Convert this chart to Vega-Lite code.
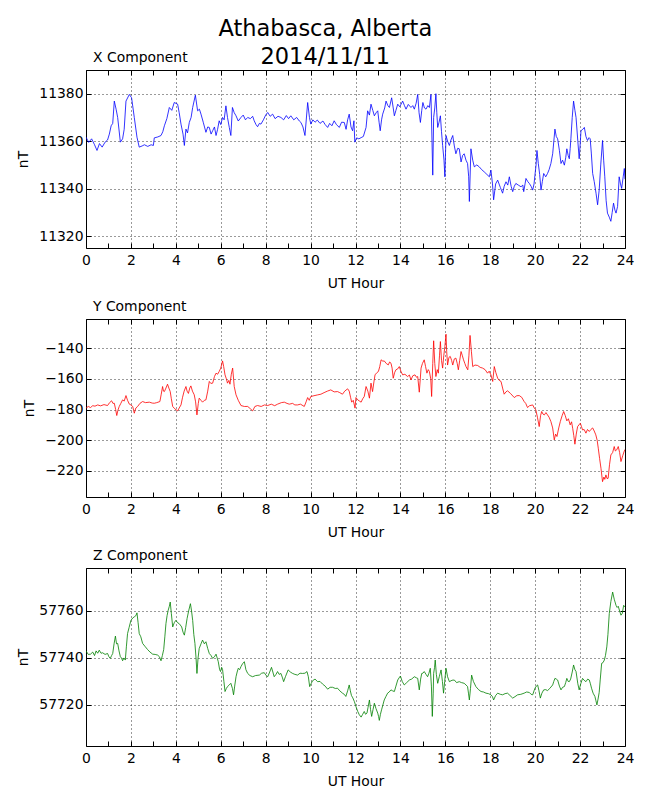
{
  "$schema": "https://vega.github.io/schema/vega-lite/v6.json",
  "padding": {"left": 16, "top": 17, "right": 5, "bottom": 5},
  "title": {
    "text": ["Athabasca, Alberta", "2014/11/11"],
    "fontSize": 22.5,
    "fontWeight": "normal",
    "font": "DejaVu Sans",
    "lineHeight": 28,
    "anchor": "middle",
    "frame": "bounds",
    "dx": 0,
    "offset": -18,
    "color": "black"
  },
  "datasets": {
    "xcomp": [
      {"h":0.00,"v":11361.7},{"h":0.12,"v":11359.5},{"h":0.25,"v":11361.0},{"h":0.38,"v":11358.5},{"h":0.49,"v":11356.1},{"h":0.6,"v":11359.0},{"h":0.72,"v":11357.5},{"h":0.85,"v":11359.6},{"h":0.96,"v":11360.5},{"h":1.04,"v":11363.0},{"h":1.12,"v":11366.5},{"h":1.19,"v":11367.5},{"h":1.26,"v":11376.9},{"h":1.34,"v":11373.5},{"h":1.41,"v":11370.0},{"h":1.53,"v":11359.6},{"h":1.63,"v":11361.0},{"h":1.70,"v":11365.0},{"h":1.78,"v":11376.9},{"h":1.93,"v":11379.7},{"h":2.03,"v":11378.3},{"h":2.15,"v":11370.0},{"h":2.27,"v":11361.7},{"h":2.37,"v":11357.5},{"h":2.5,"v":11358.0},{"h":2.6,"v":11358.5},{"h":2.75,"v":11357.8},{"h":2.9,"v":11358.5},{"h":3.0,"v":11358.2},{"h":3.04,"v":11361.4},{"h":3.2,"v":11361.8},{"h":3.34,"v":11362.4},{"h":3.42,"v":11364.0},{"h":3.49,"v":11366.5},{"h":3.6,"v":11369.5},{"h":3.71,"v":11374.2},{"h":3.82,"v":11373.0},{"h":3.93,"v":11376.3},{"h":4.08,"v":11375.6},{"h":4.15,"v":11372.0},{"h":4.23,"v":11367.2},{"h":4.32,"v":11363.0},{"h":4.38,"v":11358.2},{"h":4.45,"v":11365.1},{"h":4.52,"v":11363.5},{"h":4.6,"v":11367.9},{"h":4.68,"v":11370.0},{"h":4.75,"v":11374.2},{"h":4.87,"v":11379.4},{"h":4.97,"v":11372.8},{"h":5.05,"v":11373.5},{"h":5.12,"v":11371.4},{"h":5.22,"v":11368.0},{"h":5.34,"v":11363.75},{"h":5.42,"v":11366.0},{"h":5.49,"v":11365.8},{"h":5.57,"v":11363.0},{"h":5.64,"v":11364.4},{"h":5.72,"v":11366.0},{"h":5.79,"v":11362.4},{"h":5.86,"v":11365.0},{"h":5.93,"v":11368.6},{"h":6.0,"v":11367.0},{"h":6.08,"v":11370.0},{"h":6.15,"v":11369.0},{"h":6.23,"v":11374.9},{"h":6.3,"v":11370.0},{"h":6.38,"v":11365.8},{"h":6.45,"v":11362.4},{"h":6.52,"v":11374.2},{"h":6.6,"v":11372.0},{"h":6.68,"v":11370.7},{"h":6.78,"v":11368.5},{"h":6.9,"v":11370.0},{"h":7.0,"v":11371.0},{"h":7.1,"v":11369.0},{"h":7.2,"v":11370.0},{"h":7.32,"v":11369.5},{"h":7.42,"v":11370.5},{"h":7.49,"v":11368.6},{"h":7.57,"v":11367.0},{"h":7.64,"v":11366.1},{"h":7.72,"v":11367.5},{"h":7.79,"v":11367.2},{"h":7.9,"v":11369.0},{"h":8.0,"v":11371.0},{"h":8.09,"v":11372.1},{"h":8.2,"v":11370.5},{"h":8.31,"v":11371.4},{"h":8.42,"v":11369.5},{"h":8.55,"v":11370.5},{"h":8.68,"v":11370.0},{"h":8.8,"v":11369.0},{"h":8.92,"v":11370.8},{"h":9.02,"v":11369.5},{"h":9.12,"v":11370.7},{"h":9.25,"v":11369.0},{"h":9.38,"v":11370.0},{"h":9.5,"v":11368.5},{"h":9.57,"v":11367.9},{"h":9.66,"v":11366.0},{"h":9.75,"v":11362.4},{"h":9.87,"v":11376.3},{"h":9.95,"v":11370.0},{"h":10.01,"v":11367.2},{"h":10.1,"v":11369.0},{"h":10.2,"v":11368.0},{"h":10.3,"v":11368.9},{"h":10.42,"v":11367.5},{"h":10.55,"v":11368.5},{"h":10.65,"v":11367.0},{"h":10.76,"v":11365.8},{"h":10.85,"v":11367.5},{"h":10.95,"v":11366.5},{"h":11.05,"v":11368.6},{"h":11.15,"v":11367.0},{"h":11.28,"v":11365.8},{"h":11.38,"v":11368.0},{"h":11.5,"v":11367.9},{"h":11.58,"v":11365.0},{"h":11.65,"v":11369.0},{"h":11.72,"v":11371.4},{"h":11.8,"v":11366.0},{"h":11.87,"v":11364.4},{"h":11.93,"v":11368.6},{"h":11.97,"v":11359.6},{"h":12.05,"v":11361.4},{"h":12.15,"v":11361.0},{"h":12.25,"v":11361.5},{"h":12.35,"v":11362.0},{"h":12.47,"v":11365.8},{"h":12.54,"v":11372.8},{"h":12.62,"v":11371.0},{"h":12.69,"v":11375.6},{"h":12.77,"v":11373.0},{"h":12.84,"v":11370.7},{"h":12.92,"v":11372.0},{"h":12.99,"v":11372.8},{"h":13.05,"v":11368.0},{"h":13.1,"v":11364.4},{"h":13.16,"v":11369.0},{"h":13.21,"v":11371.4},{"h":13.3,"v":11374.0},{"h":13.36,"v":11376.9},{"h":13.44,"v":11375.0},{"h":13.51,"v":11374.2},{"h":13.61,"v":11378.3},{"h":13.68,"v":11374.0},{"h":13.73,"v":11370.7},{"h":13.8,"v":11373.0},{"h":13.88,"v":11375.6},{"h":13.97,"v":11374.5},{"h":14.1,"v":11376.9},{"h":14.18,"v":11375.0},{"h":14.25,"v":11373.5},{"h":14.35,"v":11375.5},{"h":14.47,"v":11374.2},{"h":14.55,"v":11375.0},{"h":14.62,"v":11373.5},{"h":14.7,"v":11376.0},{"h":14.77,"v":11379.7},{"h":14.83,"v":11372.0},{"h":14.89,"v":11367.9},{"h":14.95,"v":11373.0},{"h":15.0,"v":11376.3},{"h":15.07,"v":11374.0},{"h":15.14,"v":11373.5},{"h":15.22,"v":11375.0},{"h":15.29,"v":11374.2},{"h":15.36,"v":11379.7},{"h":15.44,"v":11345.7},{"h":15.48,"v":11370.0},{"h":15.53,"v":11374.0},{"h":15.58,"v":11380.0},{"h":15.62,"v":11372.0},{"h":15.66,"v":11365.8},{"h":15.72,"v":11368.0},{"h":15.78,"v":11370.7},{"h":15.83,"v":11364.0},{"h":15.88,"v":11358.2},{"h":15.94,"v":11352.0},{"h":15.98,"v":11345.0},{"h":16.03,"v":11362.4},{"h":16.1,"v":11360.0},{"h":16.18,"v":11358.2},{"h":16.25,"v":11360.5},{"h":16.33,"v":11362.4},{"h":16.4,"v":11358.0},{"h":16.47,"v":11354.7},{"h":16.55,"v":11357.0},{"h":16.62,"v":11356.8},{"h":16.7,"v":11351.25},{"h":16.77,"v":11354.0},{"h":16.84,"v":11354.7},{"h":16.92,"v":11352.0},{"h":16.99,"v":11350.6},{"h":17.04,"v":11345.0},{"h":17.07,"v":11334.6},{"h":17.14,"v":11356.8},{"h":17.22,"v":11352.0},{"h":17.29,"v":11349.2},{"h":17.4,"v":11350.0},{"h":17.51,"v":11349.2},{"h":17.62,"v":11348.0},{"h":17.73,"v":11347.1},{"h":17.85,"v":11346.0},{"h":17.96,"v":11345.0},{"h":18.03,"v":11347.8},{"h":18.1,"v":11342.0},{"h":18.15,"v":11335.3},{"h":18.24,"v":11342.0},{"h":18.33,"v":11343.6},{"h":18.45,"v":11340.5},{"h":18.55,"v":11338.1},{"h":18.62,"v":11341.0},{"h":18.7,"v":11342.9},{"h":18.78,"v":11341.5},{"h":18.85,"v":11345.0},{"h":18.93,"v":11341.0},{"h":19.0,"v":11338.75},{"h":19.07,"v":11341.0},{"h":19.14,"v":11342.2},{"h":19.25,"v":11341.5},{"h":19.37,"v":11340.8},{"h":19.45,"v":11341.5},{"h":19.49,"v":11338.75},{"h":19.55,"v":11342.0},{"h":19.59,"v":11344.3},{"h":19.67,"v":11343.0},{"h":19.74,"v":11342.2},{"h":19.82,"v":11341.0},{"h":19.89,"v":11339.4},{"h":19.95,"v":11342.0},{"h":19.99,"v":11345.7},{"h":20.04,"v":11350.0},{"h":20.08,"v":11356.1},{"h":20.14,"v":11350.6},{"h":20.2,"v":11346.0},{"h":20.26,"v":11339.4},{"h":20.32,"v":11343.0},{"h":20.38,"v":11346.4},{"h":20.47,"v":11345.0},{"h":20.55,"v":11346.4},{"h":20.62,"v":11348.0},{"h":20.7,"v":11350.6},{"h":20.78,"v":11354.7},{"h":20.88,"v":11365.1},{"h":20.94,"v":11362.0},{"h":21.0,"v":11361.0},{"h":21.08,"v":11356.0},{"h":21.15,"v":11350.6},{"h":21.22,"v":11352.0},{"h":21.3,"v":11349.9},{"h":21.36,"v":11353.0},{"h":21.41,"v":11356.8},{"h":21.47,"v":11354.0},{"h":21.52,"v":11352.6},{"h":21.56,"v":11357.0},{"h":21.59,"v":11361.0},{"h":21.65,"v":11370.0},{"h":21.71,"v":11376.9},{"h":21.77,"v":11373.0},{"h":21.82,"v":11370.0},{"h":21.9,"v":11360.0},{"h":21.96,"v":11352.6},{"h":22.0,"v":11358.0},{"h":22.04,"v":11364.4},{"h":22.12,"v":11365.0},{"h":22.19,"v":11365.8},{"h":22.26,"v":11362.0},{"h":22.33,"v":11360.3},{"h":22.4,"v":11361.5},{"h":22.45,"v":11361.0},{"h":22.5,"v":11355.0},{"h":22.56,"v":11346.4},{"h":22.63,"v":11343.0},{"h":22.71,"v":11338.1},{"h":22.78,"v":11333.2},{"h":22.85,"v":11339.4},{"h":22.92,"v":11350.0},{"h":23.0,"v":11360.3},{"h":23.05,"v":11352.0},{"h":23.1,"v":11345.0},{"h":23.16,"v":11335.0},{"h":23.22,"v":11329.7},{"h":23.3,"v":11328.0},{"h":23.37,"v":11326.25},{"h":23.43,"v":11330.0},{"h":23.49,"v":11333.9},{"h":23.55,"v":11331.0},{"h":23.6,"v":11329.7},{"h":23.67,"v":11332.5},{"h":23.74,"v":11345.0},{"h":23.8,"v":11342.0},{"h":23.85,"v":11340.1},{"h":23.92,"v":11345.0},{"h":23.97,"v":11348.5},{"h":24.0,"v":11344.0}
    ],
    "ycomp": [
      {"h":0.0,"v":-179.1},{"h":0.1,"v":-178.0},{"h":0.2,"v":-178.7},{"h":0.3,"v":-177.5},{"h":0.4,"v":-177.8},{"h":0.52,"v":-177.0},{"h":0.65,"v":-177.6},{"h":0.8,"v":-176.8},{"h":0.96,"v":-177.4},{"h":1.05,"v":-175.5},{"h":1.14,"v":-174.3},{"h":1.2,"v":-176.0},{"h":1.26,"v":-175.9},{"h":1.32,"v":-180.0},{"h":1.37,"v":-183.9},{"h":1.42,"v":-180.5},{"h":1.48,"v":-178.0},{"h":1.55,"v":-176.0},{"h":1.63,"v":-173.7},{"h":1.7,"v":-174.5},{"h":1.78,"v":-170.9},{"h":1.85,"v":-174.0},{"h":1.93,"v":-176.5},{"h":2.0,"v":-177.0},{"h":2.08,"v":-178.0},{"h":2.15,"v":-182.4},{"h":2.22,"v":-179.0},{"h":2.3,"v":-178.0},{"h":2.4,"v":-176.0},{"h":2.52,"v":-174.8},{"h":2.65,"v":-175.5},{"h":2.82,"v":-175.2},{"h":2.95,"v":-175.8},{"h":3.04,"v":-175.9},{"h":3.15,"v":-175.5},{"h":3.29,"v":-174.8},{"h":3.35,"v":-170.0},{"h":3.41,"v":-165.0},{"h":3.45,"v":-168.0},{"h":3.49,"v":-168.3},{"h":3.56,"v":-166.0},{"h":3.63,"v":-163.5},{"h":3.69,"v":-166.0},{"h":3.75,"v":-168.3},{"h":3.8,"v":-173.0},{"h":3.86,"v":-178.0},{"h":3.95,"v":-179.5},{"h":4.08,"v":-180.9},{"h":4.15,"v":-179.0},{"h":4.23,"v":-177.0},{"h":4.3,"v":-172.0},{"h":4.37,"v":-168.0},{"h":4.45,"v":-165.0},{"h":4.5,"v":-168.0},{"h":4.56,"v":-169.5},{"h":4.62,"v":-166.0},{"h":4.67,"v":-164.6},{"h":4.74,"v":-168.0},{"h":4.82,"v":-170.4},{"h":4.88,"v":-175.0},{"h":4.94,"v":-183.5},{"h":5.0,"v":-176.0},{"h":5.04,"v":-172.6},{"h":5.12,"v":-174.0},{"h":5.19,"v":-175.2},{"h":5.27,"v":-174.0},{"h":5.34,"v":-173.7},{"h":5.42,"v":-168.0},{"h":5.49,"v":-161.7},{"h":5.56,"v":-163.0},{"h":5.64,"v":-162.8},{"h":5.72,"v":-158.5},{"h":5.79,"v":-156.3},{"h":5.86,"v":-157.0},{"h":5.93,"v":-155.2},{"h":6.0,"v":-153.0},{"h":6.08,"v":-148.3},{"h":6.13,"v":-152.0},{"h":6.19,"v":-157.4},{"h":6.25,"v":-160.0},{"h":6.3,"v":-162.8},{"h":6.36,"v":-161.0},{"h":6.41,"v":-163.5},{"h":6.47,"v":-157.0},{"h":6.53,"v":-153.0},{"h":6.6,"v":-165.0},{"h":6.68,"v":-170.4},{"h":6.78,"v":-174.0},{"h":6.9,"v":-177.4},{"h":7.05,"v":-178.0},{"h":7.2,"v":-178.0},{"h":7.32,"v":-179.5},{"h":7.42,"v":-180.9},{"h":7.52,"v":-178.0},{"h":7.64,"v":-177.4},{"h":7.8,"v":-178.0},{"h":7.95,"v":-177.0},{"h":8.09,"v":-177.4},{"h":8.25,"v":-176.5},{"h":8.4,"v":-177.5},{"h":8.53,"v":-176.5},{"h":8.7,"v":-175.5},{"h":8.83,"v":-175.2},{"h":8.95,"v":-176.0},{"h":9.05,"v":-176.5},{"h":9.2,"v":-176.0},{"h":9.3,"v":-177.0},{"h":9.42,"v":-177.0},{"h":9.55,"v":-176.5},{"h":9.72,"v":-178.0},{"h":9.8,"v":-175.0},{"h":9.87,"v":-172.2},{"h":9.94,"v":-174.0},{"h":10.01,"v":-171.5},{"h":10.15,"v":-171.0},{"h":10.3,"v":-170.5},{"h":10.46,"v":-170.0},{"h":10.6,"v":-169.0},{"h":10.75,"v":-168.0},{"h":10.9,"v":-167.2},{"h":11.05,"v":-168.5},{"h":11.2,"v":-168.3},{"h":11.3,"v":-169.0},{"h":11.42,"v":-170.0},{"h":11.52,"v":-168.0},{"h":11.65,"v":-166.5},{"h":11.72,"v":-168.0},{"h":11.78,"v":-172.0},{"h":11.83,"v":-175.2},{"h":11.9,"v":-174.0},{"h":11.98,"v":-179.1},{"h":12.02,"v":-172.2},{"h":12.1,"v":-173.7},{"h":12.18,"v":-174.5},{"h":12.25,"v":-175.2},{"h":12.32,"v":-173.0},{"h":12.39,"v":-171.5},{"h":12.47,"v":-165.0},{"h":12.55,"v":-168.0},{"h":12.62,"v":-172.6},{"h":12.69,"v":-162.8},{"h":12.76,"v":-168.3},{"h":12.82,"v":-162.0},{"h":12.87,"v":-157.4},{"h":12.95,"v":-156.0},{"h":13.02,"v":-155.2},{"h":13.08,"v":-152.0},{"h":13.14,"v":-147.6},{"h":13.22,"v":-148.5},{"h":13.28,"v":-148.3},{"h":13.37,"v":-150.0},{"h":13.46,"v":-150.9},{"h":13.52,"v":-149.0},{"h":13.58,"v":-149.8},{"h":13.63,"v":-153.0},{"h":13.68,"v":-159.6},{"h":13.74,"v":-156.0},{"h":13.8,"v":-154.1},{"h":13.88,"v":-153.5},{"h":13.95,"v":-152.0},{"h":14.02,"v":-155.0},{"h":14.1,"v":-157.4},{"h":14.2,"v":-157.0},{"h":14.32,"v":-158.5},{"h":14.4,"v":-157.5},{"h":14.47,"v":-160.7},{"h":14.55,"v":-158.0},{"h":14.65,"v":-157.4},{"h":14.72,"v":-159.0},{"h":14.77,"v":-158.5},{"h":14.84,"v":-168.7},{"h":14.92,"v":-153.0},{"h":14.98,"v":-150.0},{"h":15.06,"v":-147.6},{"h":15.12,"v":-152.0},{"h":15.18,"v":-156.3},{"h":15.24,"v":-154.0},{"h":15.29,"v":-155.2},{"h":15.35,"v":-160.0},{"h":15.39,"v":-171.5},{"h":15.44,"v":-150.0},{"h":15.48,"v":-135.2},{"h":15.53,"v":-150.0},{"h":15.58,"v":-158.5},{"h":15.64,"v":-154.0},{"h":15.69,"v":-156.3},{"h":15.74,"v":-145.0},{"h":15.78,"v":-135.7},{"h":15.83,"v":-148.0},{"h":15.88,"v":-153.0},{"h":15.93,"v":-145.0},{"h":15.98,"v":-138.9},{"h":16.03,"v":-130.9},{"h":16.06,"v":-142.0},{"h":16.1,"v":-151.0},{"h":16.16,"v":-146.0},{"h":16.22,"v":-145.4},{"h":16.28,"v":-148.0},{"h":16.33,"v":-151.0},{"h":16.4,"v":-147.0},{"h":16.47,"v":-146.5},{"h":16.53,"v":-150.0},{"h":16.58,"v":-154.1},{"h":16.64,"v":-148.0},{"h":16.7,"v":-142.2},{"h":16.76,"v":-145.0},{"h":16.81,"v":-147.6},{"h":16.87,"v":-150.0},{"h":16.92,"v":-152.0},{"h":17.0,"v":-154.1},{"h":17.05,"v":-145.0},{"h":17.1,"v":-131.7},{"h":17.16,"v":-142.0},{"h":17.22,"v":-152.0},{"h":17.32,"v":-151.0},{"h":17.44,"v":-151.3},{"h":17.55,"v":-152.5},{"h":17.66,"v":-153.0},{"h":17.77,"v":-154.0},{"h":17.88,"v":-156.3},{"h":17.95,"v":-155.0},{"h":18.03,"v":-157.4},{"h":18.11,"v":-161.7},{"h":18.18,"v":-152.0},{"h":18.25,"v":-156.0},{"h":18.33,"v":-159.6},{"h":18.4,"v":-161.0},{"h":18.48,"v":-161.7},{"h":18.55,"v":-166.0},{"h":18.62,"v":-170.0},{"h":18.7,"v":-168.5},{"h":18.77,"v":-167.8},{"h":18.9,"v":-169.5},{"h":19.07,"v":-172.2},{"h":19.18,"v":-171.0},{"h":19.29,"v":-170.9},{"h":19.4,"v":-172.0},{"h":19.51,"v":-174.8},{"h":19.58,"v":-176.0},{"h":19.66,"v":-178.7},{"h":19.75,"v":-177.5},{"h":19.89,"v":-177.0},{"h":19.96,"v":-179.0},{"h":20.03,"v":-180.2},{"h":20.1,"v":-185.0},{"h":20.18,"v":-191.1},{"h":20.24,"v":-184.0},{"h":20.29,"v":-181.3},{"h":20.35,"v":-183.0},{"h":20.41,"v":-183.5},{"h":20.48,"v":-182.0},{"h":20.55,"v":-183.5},{"h":20.62,"v":-185.0},{"h":20.7,"v":-187.8},{"h":20.78,"v":-192.0},{"h":20.85,"v":-199.8},{"h":20.91,"v":-196.0},{"h":20.97,"v":-197.6},{"h":21.05,"v":-192.0},{"h":21.12,"v":-187.8},{"h":21.2,"v":-184.0},{"h":21.27,"v":-181.3},{"h":21.34,"v":-184.0},{"h":21.41,"v":-187.4},{"h":21.48,"v":-186.0},{"h":21.56,"v":-190.0},{"h":21.62,"v":-188.0},{"h":21.67,"v":-192.2},{"h":21.72,"v":-197.0},{"h":21.77,"v":-202.6},{"h":21.83,"v":-196.0},{"h":21.89,"v":-191.1},{"h":21.95,"v":-190.0},{"h":22.01,"v":-188.9},{"h":22.06,"v":-191.0},{"h":22.11,"v":-193.3},{"h":22.18,"v":-193.0},{"h":22.26,"v":-195.4},{"h":22.33,"v":-193.0},{"h":22.41,"v":-194.3},{"h":22.48,"v":-193.0},{"h":22.56,"v":-192.0},{"h":22.63,"v":-194.0},{"h":22.7,"v":-196.5},{"h":22.76,"v":-200.0},{"h":22.81,"v":-205.2},{"h":22.87,"v":-212.0},{"h":22.93,"v":-218.3},{"h":23.0,"v":-227.0},{"h":23.06,"v":-224.0},{"h":23.1,"v":-225.5},{"h":23.15,"v":-222.6},{"h":23.2,"v":-225.0},{"h":23.25,"v":-224.8},{"h":23.31,"v":-216.0},{"h":23.37,"v":-209.6},{"h":23.45,"v":-208.0},{"h":23.52,"v":-204.1},{"h":23.57,"v":-207.0},{"h":23.63,"v":-206.3},{"h":23.7,"v":-204.1},{"h":23.76,"v":-208.0},{"h":23.82,"v":-213.9},{"h":23.9,"v":-210.0},{"h":23.97,"v":-207.0},{"h":24.0,"v":-206.0}
    ],
    "zcomp": [
      {"h":0.0,"v":57743.0},{"h":0.1,"v":57741.5},{"h":0.2,"v":57741.6},{"h":0.3,"v":57742.5},{"h":0.38,"v":57741.0},{"h":0.45,"v":57743.0},{"h":0.52,"v":57742.0},{"h":0.59,"v":57743.3},{"h":0.67,"v":57742.0},{"h":0.74,"v":57742.2},{"h":0.85,"v":57741.5},{"h":0.96,"v":57741.9},{"h":1.02,"v":57740.5},{"h":1.08,"v":57739.8},{"h":1.14,"v":57741.0},{"h":1.19,"v":57741.9},{"h":1.25,"v":57746.0},{"h":1.31,"v":57749.3},{"h":1.36,"v":57746.0},{"h":1.41,"v":57746.2},{"h":1.47,"v":57743.0},{"h":1.53,"v":57740.5},{"h":1.58,"v":57740.0},{"h":1.63,"v":57738.8},{"h":1.69,"v":57740.0},{"h":1.75,"v":57739.1},{"h":1.8,"v":57745.0},{"h":1.85,"v":57750.4},{"h":1.92,"v":57753.0},{"h":2.0,"v":57756.0},{"h":2.08,"v":57757.0},{"h":2.15,"v":57757.5},{"h":2.22,"v":57758.0},{"h":2.27,"v":57759.2},{"h":2.32,"v":57755.0},{"h":2.37,"v":57750.4},{"h":2.44,"v":57749.0},{"h":2.52,"v":57746.2},{"h":2.62,"v":57745.0},{"h":2.74,"v":57743.6},{"h":2.85,"v":57742.5},{"h":2.97,"v":57741.6},{"h":3.08,"v":57741.5},{"h":3.19,"v":57741.2},{"h":3.27,"v":57740.5},{"h":3.34,"v":57738.8},{"h":3.4,"v":57741.0},{"h":3.46,"v":57743.6},{"h":3.51,"v":57749.0},{"h":3.56,"v":57754.6},{"h":3.61,"v":57758.0},{"h":3.66,"v":57760.3},{"h":3.71,"v":57762.0},{"h":3.75,"v":57763.8},{"h":3.8,"v":57759.0},{"h":3.86,"v":57753.2},{"h":3.93,"v":57755.0},{"h":4.0,"v":57756.0},{"h":4.08,"v":57755.0},{"h":4.15,"v":57754.6},{"h":4.2,"v":57754.0},{"h":4.26,"v":57753.2},{"h":4.32,"v":57751.0},{"h":4.38,"v":57749.7},{"h":4.44,"v":57753.0},{"h":4.5,"v":57756.75},{"h":4.57,"v":57760.0},{"h":4.65,"v":57763.1},{"h":4.7,"v":57760.0},{"h":4.75,"v":57756.0},{"h":4.8,"v":57750.0},{"h":4.85,"v":57746.2},{"h":4.9,"v":57740.0},{"h":4.94,"v":57733.4},{"h":4.99,"v":57740.0},{"h":5.04,"v":57744.0},{"h":5.12,"v":57746.0},{"h":5.19,"v":57747.6},{"h":5.27,"v":57746.0},{"h":5.34,"v":57746.9},{"h":5.42,"v":57744.0},{"h":5.49,"v":57741.9},{"h":5.57,"v":57741.0},{"h":5.64,"v":57739.8},{"h":5.72,"v":57740.5},{"h":5.79,"v":57741.6},{"h":5.84,"v":57740.0},{"h":5.89,"v":57738.4},{"h":5.95,"v":57735.0},{"h":5.99,"v":57734.2},{"h":6.04,"v":57736.0},{"h":6.08,"v":57735.1},{"h":6.14,"v":57730.0},{"h":6.19,"v":57725.7},{"h":6.25,"v":57727.0},{"h":6.3,"v":57727.8},{"h":6.38,"v":57728.5},{"h":6.45,"v":57729.2},{"h":6.52,"v":57727.0},{"h":6.57,"v":57724.3},{"h":6.62,"v":57728.0},{"h":6.68,"v":57732.0},{"h":6.73,"v":57734.0},{"h":6.78,"v":57735.6},{"h":6.84,"v":57735.0},{"h":6.9,"v":57736.3},{"h":6.97,"v":57737.5},{"h":7.05,"v":57738.4},{"h":7.12,"v":57735.0},{"h":7.2,"v":57733.4},{"h":7.3,"v":57732.5},{"h":7.42,"v":57732.0},{"h":7.55,"v":57732.5},{"h":7.72,"v":57732.7},{"h":7.82,"v":57733.5},{"h":7.94,"v":57733.7},{"h":8.02,"v":57732.5},{"h":8.09,"v":57732.0},{"h":8.18,"v":57734.0},{"h":8.26,"v":57736.0},{"h":8.32,"v":57734.0},{"h":8.38,"v":57732.0},{"h":8.46,"v":57733.0},{"h":8.53,"v":57734.2},{"h":8.6,"v":57733.0},{"h":8.68,"v":57733.4},{"h":8.75,"v":57731.5},{"h":8.8,"v":57729.9},{"h":8.88,"v":57732.0},{"h":9.0,"v":57734.9},{"h":9.1,"v":57734.0},{"h":9.2,"v":57733.4},{"h":9.3,"v":57733.0},{"h":9.42,"v":57732.7},{"h":9.53,"v":57733.5},{"h":9.64,"v":57733.4},{"h":9.75,"v":57733.5},{"h":9.84,"v":57734.2},{"h":9.9,"v":57732.0},{"h":9.96,"v":57727.8},{"h":10.02,"v":57729.0},{"h":10.09,"v":57730.3},{"h":10.2,"v":57731.0},{"h":10.31,"v":57729.9},{"h":10.42,"v":57730.0},{"h":10.53,"v":57728.9},{"h":10.65,"v":57728.0},{"h":10.76,"v":57726.7},{"h":10.87,"v":57727.5},{"h":10.98,"v":57727.5},{"h":11.1,"v":57727.0},{"h":11.2,"v":57727.1},{"h":11.3,"v":57726.0},{"h":11.42,"v":57725.0},{"h":11.5,"v":57724.5},{"h":11.57,"v":57723.6},{"h":11.65,"v":57726.0},{"h":11.72,"v":57728.5},{"h":11.77,"v":57726.0},{"h":11.82,"v":57724.0},{"h":11.88,"v":57723.0},{"h":11.95,"v":57721.4},{"h":12.02,"v":57719.3},{"h":12.1,"v":57717.2},{"h":12.17,"v":57715.8},{"h":12.25,"v":57714.8},{"h":12.32,"v":57716.0},{"h":12.39,"v":57717.2},{"h":12.45,"v":57716.0},{"h":12.51,"v":57716.5},{"h":12.56,"v":57719.0},{"h":12.62,"v":57722.1},{"h":12.67,"v":57718.0},{"h":12.72,"v":57715.1},{"h":12.78,"v":57718.0},{"h":12.84,"v":57720.7},{"h":12.91,"v":57718.5},{"h":12.99,"v":57716.5},{"h":13.03,"v":57715.0},{"h":13.06,"v":57713.4},{"h":13.11,"v":57716.0},{"h":13.16,"v":57717.9},{"h":13.22,"v":57720.0},{"h":13.28,"v":57722.1},{"h":13.35,"v":57723.5},{"h":13.43,"v":57725.0},{"h":13.5,"v":57725.5},{"h":13.58,"v":57726.4},{"h":13.65,"v":57726.0},{"h":13.73,"v":57725.7},{"h":13.8,"v":57728.0},{"h":13.88,"v":57730.6},{"h":13.94,"v":57731.5},{"h":14.0,"v":57732.3},{"h":14.08,"v":57730.0},{"h":14.17,"v":57728.5},{"h":14.28,"v":57729.5},{"h":14.4,"v":57730.6},{"h":14.5,"v":57731.0},{"h":14.62,"v":57732.0},{"h":14.72,"v":57731.5},{"h":14.77,"v":57731.3},{"h":14.84,"v":57726.4},{"h":14.9,"v":57731.0},{"h":14.95,"v":57733.4},{"h":15.0,"v":57733.5},{"h":15.06,"v":57734.2},{"h":15.14,"v":57733.0},{"h":15.21,"v":57732.0},{"h":15.27,"v":57733.5},{"h":15.33,"v":57735.6},{"h":15.38,"v":57728.0},{"h":15.42,"v":57715.1},{"h":15.46,"v":57725.0},{"h":15.48,"v":57733.4},{"h":15.52,"v":57736.0},{"h":15.55,"v":57739.1},{"h":15.6,"v":57733.0},{"h":15.66,"v":57729.2},{"h":15.73,"v":57732.0},{"h":15.81,"v":57734.9},{"h":15.87,"v":57730.0},{"h":15.92,"v":57725.0},{"h":15.97,"v":57730.0},{"h":16.03,"v":57735.6},{"h":16.1,"v":57732.0},{"h":16.18,"v":57729.9},{"h":16.3,"v":57730.5},{"h":16.4,"v":57730.6},{"h":16.5,"v":57729.5},{"h":16.62,"v":57729.9},{"h":16.72,"v":57729.5},{"h":16.84,"v":57729.2},{"h":16.92,"v":57728.5},{"h":16.99,"v":57727.8},{"h":17.03,"v":57725.0},{"h":17.07,"v":57722.1},{"h":17.12,"v":57727.0},{"h":17.17,"v":57732.7},{"h":17.25,"v":57730.0},{"h":17.36,"v":57727.8},{"h":17.48,"v":57726.5},{"h":17.59,"v":57725.7},{"h":17.7,"v":57725.5},{"h":17.81,"v":57725.0},{"h":17.92,"v":57724.8},{"h":18.03,"v":57724.3},{"h":18.1,"v":57723.5},{"h":18.15,"v":57722.1},{"h":18.24,"v":57724.0},{"h":18.33,"v":57725.0},{"h":18.45,"v":57724.5},{"h":18.55,"v":57724.3},{"h":18.66,"v":57724.8},{"h":18.77,"v":57725.0},{"h":18.88,"v":57724.0},{"h":19.0,"v":57722.9},{"h":19.1,"v":57723.5},{"h":19.22,"v":57724.3},{"h":19.36,"v":57724.5},{"h":19.51,"v":57725.0},{"h":19.62,"v":57725.5},{"h":19.74,"v":57725.3},{"h":19.82,"v":57724.5},{"h":19.89,"v":57724.3},{"h":19.95,"v":57726.0},{"h":19.99,"v":57727.1},{"h":20.05,"v":57728.0},{"h":20.11,"v":57728.5},{"h":20.17,"v":57726.0},{"h":20.23,"v":57722.9},{"h":20.3,"v":57725.0},{"h":20.38,"v":57726.4},{"h":20.47,"v":57726.5},{"h":20.55,"v":57726.1},{"h":20.65,"v":57727.0},{"h":20.78,"v":57728.5},{"h":20.83,"v":57730.0},{"h":20.88,"v":57731.3},{"h":20.94,"v":57731.0},{"h":21.0,"v":57730.6},{"h":21.08,"v":57728.0},{"h":21.15,"v":57726.4},{"h":21.22,"v":57727.5},{"h":21.3,"v":57727.8},{"h":21.36,"v":57729.5},{"h":21.41,"v":57731.3},{"h":21.47,"v":57730.0},{"h":21.52,"v":57729.9},{"h":21.58,"v":57731.0},{"h":21.65,"v":57734.0},{"h":21.71,"v":57737.0},{"h":21.77,"v":57735.0},{"h":21.82,"v":57734.2},{"h":21.9,"v":57729.0},{"h":21.96,"v":57726.4},{"h":22.03,"v":57729.0},{"h":22.11,"v":57731.3},{"h":22.18,"v":57730.5},{"h":22.26,"v":57729.9},{"h":22.34,"v":57731.0},{"h":22.41,"v":57730.6},{"h":22.46,"v":57729.0},{"h":22.51,"v":57727.1},{"h":22.58,"v":57725.0},{"h":22.66,"v":57723.6},{"h":22.7,"v":57722.0},{"h":22.75,"v":57720.0},{"h":22.8,"v":57722.5},{"h":22.85,"v":57725.3},{"h":22.9,"v":57731.0},{"h":22.96,"v":57737.7},{"h":23.02,"v":57738.0},{"h":23.08,"v":57739.1},{"h":23.13,"v":57741.0},{"h":23.19,"v":57744.7},{"h":23.24,"v":57750.0},{"h":23.3,"v":57758.9},{"h":23.37,"v":57764.0},{"h":23.45,"v":57768.05},{"h":23.52,"v":57765.0},{"h":23.6,"v":57762.4},{"h":23.65,"v":57761.5},{"h":23.7,"v":57762.0},{"h":23.76,"v":57760.0},{"h":23.82,"v":57758.2},{"h":23.88,"v":57759.0},{"h":23.94,"v":57762.4},{"h":24.0,"v":57761.7}
    ]
  },
  "spacing": 7,
  "vconcat": [
    {
      "width": 539,
      "height": 178,
      "title": {"text": "X Component", "anchor": "start", "frame": "group", "dx": 7},
      "data": {"name": "xcomp"},
      "resolve": {"axis": {"x": "independent", "y": "independent"}},
      "layer": [
        {
          "mark": {"type": "line", "color": "#0000ff", "strokeWidth": 0.8, "clip": true},
          "encoding": {
            "x": {"field": "h", "type": "quantitative", "scale": {"domain": [0, 24], "nice": false},
              "axis": {"title": "UT Hour", "values": [0,1,2,3,4,5,6,7,8,9,10,11,12,13,14,15,16,17,18,19,20,21,22,23,24],
                "labelExpr": "datum.value % 2 == 0 ? datum.label : ''",
                "gridOpacity": {"condition": {"test": "datum.value % 2 == 1", "value": 0}, "value": 1}}},
            "y": {"field": "v", "type": "quantitative", "scale": {"domain": [11315, 11390], "nice": false, "zero": false},
              "axis": {"title": "nT", "format": "d", "values": [11320, 11340, 11360, 11380]}}
          }
        },
        {
          "mark": {"type": "point", "opacity": 0},
          "encoding": {
            "x": {"datum": 0, "type": "quantitative", "axis": {"orient": "top", "values": [0,1,2,3,4,5,6,7,8,9,10,11,12,13,14,15,16,17,18,19,20,21,22,23,24], "labels": false, "grid": false, "title": null}},
            "y": {"datum": 11320, "type": "quantitative", "axis": {"orient": "right", "values": [11320, 11340, 11360, 11380], "labels": false, "grid": false, "title": null}}
          }
        }
      ]
    },
    {
      "width": 539,
      "height": 178,
      "title": {"text": "Y Component", "anchor": "start", "frame": "group", "dx": 7},
      "data": {"name": "ycomp"},
      "resolve": {"axis": {"x": "independent", "y": "independent"}},
      "layer": [
        {
          "mark": {"type": "line", "color": "#ff0000", "strokeWidth": 0.8, "clip": true},
          "encoding": {
            "x": {"field": "h", "type": "quantitative", "scale": {"domain": [0, 24], "nice": false},
              "axis": {"title": "UT Hour", "values": [0,1,2,3,4,5,6,7,8,9,10,11,12,13,14,15,16,17,18,19,20,21,22,23,24],
                "labelExpr": "datum.value % 2 == 0 ? datum.label : ''",
                "gridOpacity": {"condition": {"test": "datum.value % 2 == 1", "value": 0}, "value": 1}}},
            "y": {"field": "v", "type": "quantitative", "scale": {"domain": [-237, -121], "nice": false, "zero": false},
              "axis": {"title": "nT", "format": "d", "values": [-220, -200, -180, -160, -140]}}
          }
        },
        {
          "mark": {"type": "point", "opacity": 0},
          "encoding": {
            "x": {"datum": 0, "type": "quantitative", "axis": {"orient": "top", "values": [0,1,2,3,4,5,6,7,8,9,10,11,12,13,14,15,16,17,18,19,20,21,22,23,24], "labels": false, "grid": false, "title": null}},
            "y": {"datum": -180, "type": "quantitative", "axis": {"orient": "right", "values": [-220, -200, -180, -160, -140], "labels": false, "grid": false, "title": null}}
          }
        }
      ]
    },
    {
      "width": 539,
      "height": 178,
      "title": {"text": "Z Component", "anchor": "start", "frame": "group", "dx": 7},
      "data": {"name": "zcomp"},
      "resolve": {"axis": {"x": "independent", "y": "independent"}},
      "layer": [
        {
          "mark": {"type": "line", "color": "#008000", "strokeWidth": 0.8, "clip": true},
          "encoding": {
            "x": {"field": "h", "type": "quantitative", "scale": {"domain": [0, 24], "nice": false},
              "axis": {"title": "UT Hour", "values": [0,1,2,3,4,5,6,7,8,9,10,11,12,13,14,15,16,17,18,19,20,21,22,23,24],
                "labelExpr": "datum.value % 2 == 0 ? datum.label : ''",
                "gridOpacity": {"condition": {"test": "datum.value % 2 == 1", "value": 0}, "value": 1}}},
            "y": {"field": "v", "type": "quantitative", "scale": {"domain": [57702.5, 57778.3], "nice": false, "zero": false},
              "axis": {"title": "nT", "format": "d", "values": [57720, 57740, 57760]}}
          }
        },
        {
          "mark": {"type": "point", "opacity": 0},
          "encoding": {
            "x": {"datum": 0, "type": "quantitative", "axis": {"orient": "top", "values": [0,1,2,3,4,5,6,7,8,9,10,11,12,13,14,15,16,17,18,19,20,21,22,23,24], "labels": false, "grid": false, "title": null}},
            "y": {"datum": 57740, "type": "quantitative", "axis": {"orient": "right", "values": [57720, 57740, 57760], "labels": false, "grid": false, "title": null}}
          }
        }
      ]
    }
  ],
  "config": {
    "font": "DejaVu Sans",
    "background": "white",
    "view": {"stroke": "black", "strokeWidth": 1},
    "title": {"fontSize": 13.9, "fontWeight": "normal", "font": "DejaVu Sans", "color": "black", "offset": 5},
    "axis": {
      "domain": false,
      "labelFont": "DejaVu Sans",
      "labelFontSize": 13.9,
      "labelColor": "black",
      "labelFlush": false,
      "labelOverlap": false,
      "labelPadding": 8,
      "titleFont": "DejaVu Sans",
      "titleFontSize": 13.9,
      "titleFontWeight": "normal",
      "titleColor": "black",
      "titlePadding": 6,
      "tickColor": "black",
      "tickSize": -5,
      "tickWidth": 1,
      "gridColor": "black",
      "gridDash": [1, 3],
      "gridWidth": 0.8
    },
    "axisX": {"labelPadding": 10, "titlePadding": 10},
    "axisY": {"titlePadding": 8}
  }
}
